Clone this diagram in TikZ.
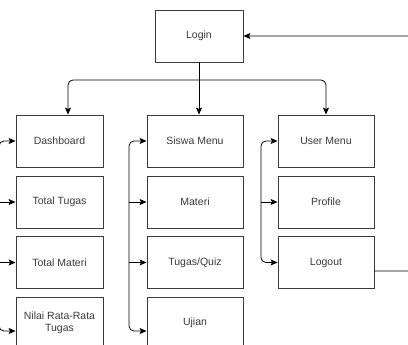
\documentclass[tikz,border=0pt]{standalone}
\usepackage{fontspec}
\setmainfont{Liberation Sans}
\usetikzlibrary{arrows.meta}
\definecolor{boxline}{HTML}{3A3A3A}
\definecolor{txt}{HTML}{3A3A3A}
\tikzset{
  menubox/.style={draw=boxline, line width=0.9pt, fill=white, minimum height=52pt,
    inner sep=1pt, align=center, text=txt, font=\fontsize{10.5}{12}\selectfont},
  widebox/.style={menubox, minimum width=96pt},
  narrowbox/.style={menubox, minimum width=87pt},
  arr/.style={draw=black, line width=0.8pt, -{Stealth[length=7pt,width=6pt,inset=1.5pt]}},
  rc/.style={rounded corners=5pt}
}
\begin{document}
\begin{tikzpicture}[x=1pt, y=-1pt]
\useasboundingbox (0,0) rectangle (408,345);
\clip (0,0) rectangle (408,345);
\fill[white] (0,0) rectangle (408,345);

% top node
\node[menubox, minimum width=88pt] (login) at (199,36) {Login};

% left column
\node[narrowbox] (dash)   at (59.5,141)   {Dashboard};
\node[narrowbox] (ttugas) at (59.5,202)   {Total Tugas};
\node[narrowbox] (tmat)   at (59.5,262.5) {Total Materi};
\node[narrowbox] (nilai)  at (59.5,323)   {Nilai Rata-Rata\\Tugas};

% middle column
\node[widebox] (siswa)  at (195,141)   {Siswa Menu};
\node[widebox] (materi) at (195,202)   {Materi};
\node[widebox] (tugas)  at (195,262.5) {Tugas/Quiz};
\node[widebox] (ujian)  at (195,323)   {Ujian};

% right column
\node[widebox] (user)    at (326,141)   {User Menu};
\node[widebox] (profile) at (326,202)   {Profile};
\node[widebox] (logout)  at (326,262.5) {Logout};

% branching from login
\coordinate (split) at (199,80);
\draw[arr] (login.south) -- (login.south |- siswa.north);
\draw[arr, rc] (split) -| ([xshift=8.5pt]dash.north);
\draw[arr, rc] (split) -| (user.north);

% left bracket
\coordinate (lb) at (-1,0);
\draw[arr, rc] (lb |- ttugas.west) |- (dash.west);
\draw[arr] (lb |- ttugas.west) -- (ttugas.west);
\draw[arr] (lb |- tmat.west) -- (tmat.west);
\draw[arr, rc] (lb |- ttugas.west) |- ([yshift=-8pt]nilai.west);

% middle bracket
\coordinate (mb) at (129,0);
\draw[arr, rc] (mb |- materi.west) |- (siswa.west);
\draw[arr] (mb |- materi.west) -- (materi.west);
\draw[arr] (mb |- tugas.west) -- (tugas.west);
\draw[arr, rc] (mb |- materi.west) |- ([yshift=-8pt]ujian.west);

% right bracket
\coordinate (rb) at (261,0);
\draw[arr, rc] (rb |- profile.west) |- (user.west);
\draw[arr] (rb |- profile.west) -- (profile.west);
\draw[arr, rc] (rb |- profile.west) |- (logout.west);

% return from logout to login
\coordinate (ret) at (420,150);
\draw[arr, rc] ([yshift=-8.5pt]logout.east) -| (ret) |- (login.east);
\end{tikzpicture}
\end{document}
